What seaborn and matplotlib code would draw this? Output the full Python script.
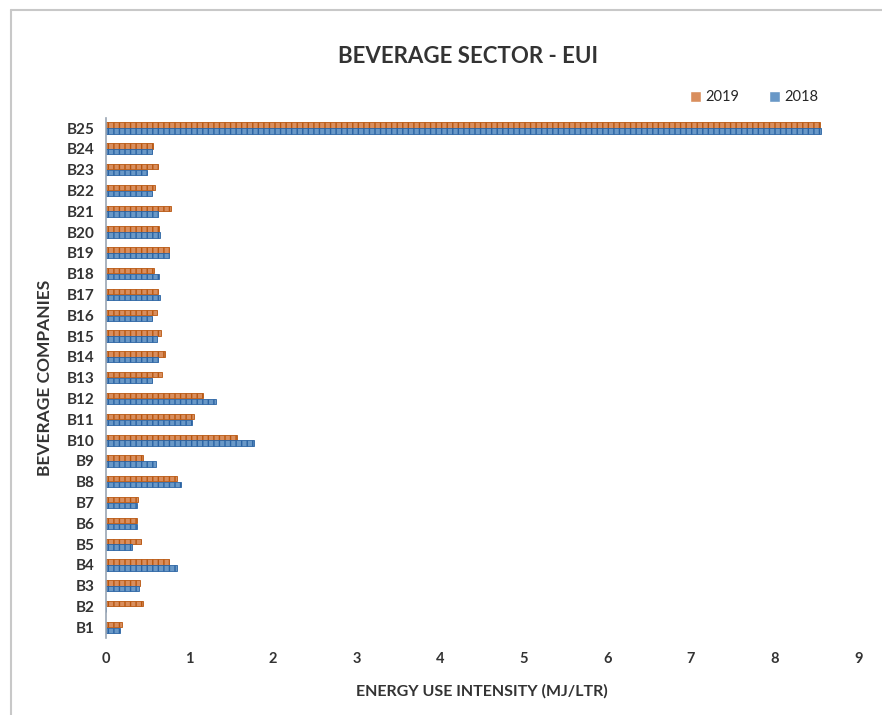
import numpy as np
import pandas as pd
import matplotlib
matplotlib.use("Agg")
import matplotlib.pyplot as plt
from matplotlib.lines import Line2D
import seaborn as sns

# Energy use intensity per beverage company (MJ/LTR)
companies = [f"B{i}" for i in range(1, 26)]
eui_2019 = [0.19, 0.44, 0.41, 0.76, 0.42, 0.37, 0.38, 0.85, 0.45, 1.57,
            1.05, 1.16, 0.67, 0.71, 0.66, 0.61, 0.62, 0.58, 0.75, 0.64,
            0.78, 0.59, 0.62, 0.57, 8.54]
eui_2018 = [0.17, 0.00, 0.40, 0.85, 0.31, 0.37, 0.37, 0.90, 0.60, 1.77,
            1.03, 1.32, 0.55, 0.62, 0.61, 0.55, 0.65, 0.64, 0.76, 0.65,
            0.62, 0.55, 0.49, 0.55, 8.56]
years = ["2019", "2018"]
x_ticks = list(range(0, 10))

df = pd.DataFrame({
    "company": companies * 2,
    "year": ["2019"] * len(companies) + ["2018"] * len(companies),
    "eui": eui_2019 + eui_2018,
})

sns.set_theme(style="white")
plt.rcParams["font.family"] = ["Lato", "DejaVu Sans"]
plt.rcParams["hatch.linewidth"] = 1.0

palette = {"2019": "#EE8A48", "2018": "#5A98D6"}
edges = {"2019": "#B8560F", "2018": "#2A63A3"}

fig = plt.figure(figsize=(8.82, 7.15), dpi=100)
ax = fig.add_axes([0.120, 0.108, 0.853, 0.7275])

sns.barplot(data=df, y="company", x="eui", hue="year", hue_order=years,
            order=companies[::-1], palette=palette, orient="h",
            width=0.56, gap=0.08, ax=ax, legend=True)

for container, yr in zip(ax.containers, years):
    for bar in container:
        bar.set_hatch("|||")
        bar.set_edgecolor(edges[yr])
        bar.set_linewidth(0.6)

ax.set_xlim(0, 9)
ax.set_xticks(x_ticks)
ax.set_xticklabels([str(t) for t in x_ticks], fontsize=10.5, fontweight="bold",
                   color="#333333")
ax.tick_params(axis="y", labelsize=11, labelcolor="#333333", length=0, pad=8)
ax.tick_params(axis="x", length=0, pad=10)
for lbl in ax.get_yticklabels():
    lbl.set_fontweight("bold")

for side in ["top", "right", "bottom"]:
    ax.spines[side].set_visible(False)
ax.spines["left"].set_color("#9aa6b4")
ax.spines["left"].set_linewidth(1.2)
ax.grid(False)

ax.set_xlabel("ENERGY USE INTENSITY (MJ/LTR)", fontsize=11.5, fontweight="bold",
              color="#333333", labelpad=13)
ax.set_ylabel("BEVERAGE COMPANIES", fontsize=12.5, fontweight="bold",
              color="#333333", labelpad=10)

fig.text(0.531, 0.921, "BEVERAGE SECTOR - EUI", ha="center", va="center",
         fontsize=16, fontweight="bold", color="#333333")

handles, labels = ax.get_legend_handles_labels()
ax.legend_.remove()
fig.legend(handles, labels, loc="center", bbox_to_anchor=(0.855, 0.864),
           ncol=2, frameon=False, fontsize=10.5, handlelength=0.8,
           handleheight=0.8, handletextpad=0.3, columnspacing=2.0)

# frame lines around the chart area
fig.add_artist(Line2D([11 / 882, 11 / 882], [0, 1 - 10 / 715],
                      transform=fig.transFigure, color="#c8c8c8", lw=1.5))
fig.add_artist(Line2D([11 / 882, 1], [1 - 10 / 715, 1 - 10 / 715],
                      transform=fig.transFigure, color="#c8c8c8", lw=1.5))

fig.savefig("out.png", dpi=100, facecolor="white")
